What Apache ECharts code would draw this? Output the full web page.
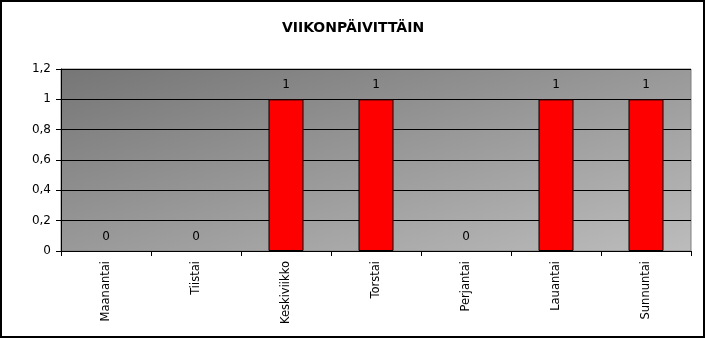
<!DOCTYPE html>
<html><head><meta charset="utf-8">
<script src="https://cdn.jsdelivr.net/npm/echarts@6/dist/echarts.min.js"></script>
<style>html,body{margin:0;padding:0;background:#fff}#c{width:706px;height:339px}</style>
</head><body><div id="c"></div>
<script>
var title = 'VIIKONPÄIVITTÄIN';
var categories = ['Maanantai','Tiistai','Keskiviikko','Torstai','Perjantai','Lauantai','Sunnuntai'];
var values = [0,0,1,1,0,1,1];
var yTicks = [0,0.2,0.4,0.6,0.8,1,1.2];

var chart = echarts.init(document.getElementById('c'), null, {renderer:'canvas'});
var font = '"DejaVu Sans", Arial, sans-serif';
// grid box
var gl = 61, gt = 69, gw = 630, gh = 182;
// Excel-style diagonal gradient: isolines parallel to the anti-diagonal of the box
var len = Math.sqrt(gh*gh + gw*gw);
var proj = (gw*gh + gh*gw) / len;
var ex = gl + gh/len*proj, ey = gt + gw/len*proj;
chart.setOption({
  animation:false,
  backgroundColor:'#fff',
  title:{text:title,left:'center',top:16,textStyle:{fontFamily:font,fontSize:14,fontWeight:'bold',color:'#000'}},
  graphic:[{type:'rect',shape:{x:1,y:1,width:703,height:336},style:{fill:'none',stroke:'#000',lineWidth:2},silent:true}],
  grid:{left:gl,top:gt,width:gw,height:gh,show:true,borderColor:'#808080',borderWidth:1,
    backgroundColor:new echarts.graphic.LinearGradient(gl,gt,ex,ey,[{offset:0,color:'#767676'},{offset:1,color:'#bcbcbc'}],true)},
  xAxis:{type:'category',data:categories,boundaryGap:true,
    axisLine:{lineStyle:{color:'#000',width:1}},
    axisTick:{show:true,length:5,lineStyle:{color:'#000'}},
    axisLabel:{rotate:90,fontFamily:font,fontSize:11.5,color:'#000',margin:10,interval:0}},
  yAxis:{type:'value',min:yTicks[0],max:yTicks[yTicks.length-1],interval:0.2,
    axisLine:{show:true,lineStyle:{color:'#000'}},
    axisTick:{show:true,length:5,lineStyle:{color:'#000'}},
    splitLine:{show:true,lineStyle:{color:'#000',width:1}},
    axisLabel:{fontFamily:font,fontSize:12,color:'#000',margin:10,
      formatter:function(v){var r=Math.round(v*10)/10;return String(r).replace('.',',');}}},
  series:[{type:'bar',barWidth:35,
    data:values.map(function(v){return {value:v,itemStyle:{borderWidth:v===0?0:1}};}),
    itemStyle:{color:'#ff0000',borderColor:'#000',borderWidth:1},
    label:{show:true,position:'top',distance:8,fontFamily:font,fontSize:12,color:'#000'}}]
});
</script></body></html>
